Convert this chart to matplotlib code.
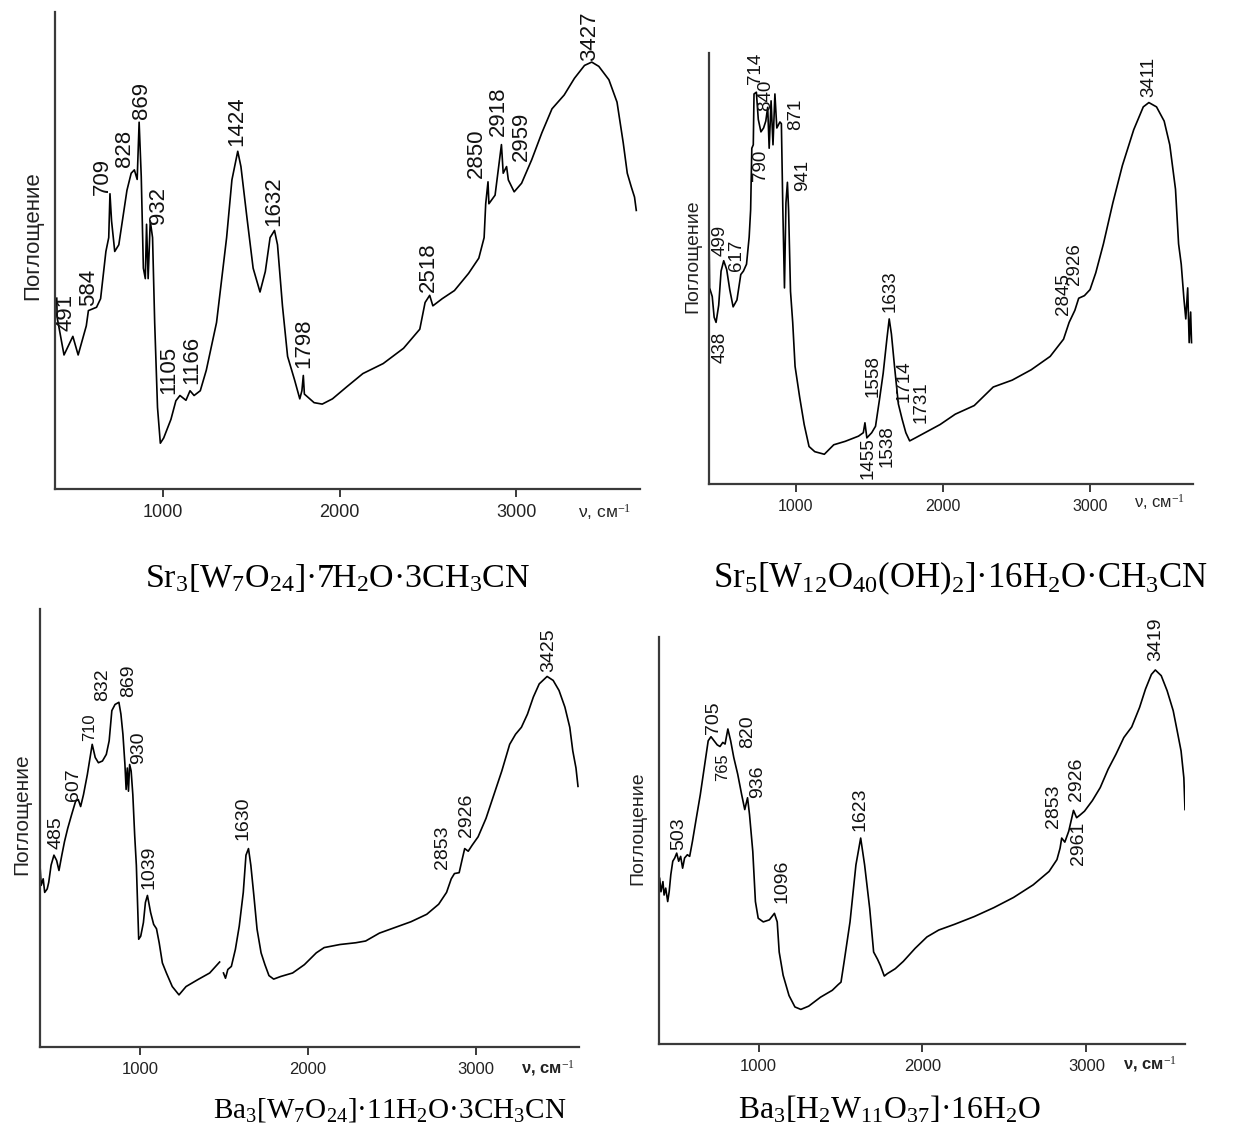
import numpy as np
import matplotlib
matplotlib.use('Agg')
import matplotlib.pyplot as plt

plt.rcParams['font.family'] = ['Liberation Sans', 'DejaVu Sans']
plt.rcParams['mathtext.fontset'] = 'custom'
plt.rcParams['mathtext.rm'] = 'Liberation Serif'
plt.rcParams['mathtext.it'] = 'Liberation Serif:italic'
plt.rcParams['mathtext.bf'] = 'Liberation Serif:bold'

# ---------------- Panel 1: Sr3[W7O24]·7H2O·3CH3CN ----------------
p1_wn = [400, 402, 441, 491, 521, 567, 579, 625, 648, 678, 694, 701, 710, 728, 751, 797, 821, 839, 855,
         866, 878, 890, 901, 908, 917, 929, 942, 954, 970, 986, 1005, 1046, 1074, 1097, 1131, 1154, 1177,
         1212, 1246, 1304, 1361, 1391, 1424, 1442, 1476, 1511, 1550, 1580, 1607, 1632, 1649, 1677, 1706,
         1746, 1775, 1787, 1795, 1801, 1856, 1902, 1960, 2040, 2132, 2247, 2362, 2454, 2484, 2510, 2528,
         2581, 2650, 2730, 2788, 2818, 2827, 2840, 2845, 2880, 2916, 2926, 2945, 2955, 2988, 3030, 3087,
         3145, 3202, 3271, 3329, 3386, 3427, 3467, 3524, 3570, 3605, 3628, 3651, 3669, 3679]
p1_abs = [40.0, 36.0, 28.1, 32.0, 28.1, 34.2, 37.4, 38.1, 39.9, 49.8, 52.7, 61.9, 56.2, 49.8, 51.2, 62.6,
          66.2, 66.9, 64.9, 76.9, 65.5, 46.3, 44.1, 55.5, 44.1, 56.2, 52.7, 34.9, 17.1, 9.6, 10.7, 14.6,
          18.5, 19.6, 18.6, 20.6, 19.6, 20.6, 24.9, 34.9, 52.7, 64.8, 70.8, 67.6, 56.9, 46.3, 41.3, 45.6,
          52.7, 54.2, 51.2, 38.4, 27.8, 22.8, 18.9, 20.6, 23.8, 19.9, 18.1, 17.8, 18.9, 21.4, 24.2, 26.3,
          29.5, 33.5, 39.1, 40.6, 38.4, 39.9, 41.6, 45.2, 48.4, 52.7, 59.8, 64.4, 59.8, 61.6, 72.2, 66.2,
          67.6, 64.8, 62.3, 64.1, 69.0, 74.7, 79.7, 82.6, 86.1, 88.8, 89.5, 88.6, 85.8, 81.1, 72.6, 66.2,
          63.3, 61.2, 58.4]
p1_peaks = [491, 584, 709, 828, 869, 932, 1105, 1166, 1424, 1632, 1798, 2518, 2850, 2918, 2959, 3427]
p1_lab_x = [452, 579, 657, 784, 878, 975, 1032, 1166, 1419, 1626, 1798, 2505, 2772, 2896, 3030, 3414]
p1_lab_y = [33.1, 38.4, 61.6, 67.6, 77.6, 55.5, 19.9, 22.1, 71.9, 55.2, 25.3, 41.3, 65.1, 74.0, 68.7, 89.7]

# ---------------- Panel 2: Sr5[W12O40(OH)2]·16H2O·CH3CN ----------------
p2_wn = [410, 414, 432, 445, 458, 476, 492, 510, 530, 551, 574, 600, 626, 644, 665, 683, 693, 701, 711,
         716, 732, 745, 763, 781, 796, 809, 819, 832, 845, 858, 871, 892, 902, 912, 923, 933, 943, 951,
         964, 979, 995, 1026, 1057, 1090, 1129, 1194, 1258, 1336, 1426, 1459, 1470, 1483, 1516, 1542,
         1568, 1594, 1619, 1635, 1650, 1671, 1697, 1723, 1748, 1774, 1813, 1878, 1981, 2084, 2213, 2342,
         2471, 2600, 2729, 2820, 2858, 2897, 2923, 2962, 3000, 3039, 3091, 3155, 3220, 3297, 3362, 3400,
         3452, 3504, 3542, 3581, 3602, 3620, 3638, 3651, 3664, 3674, 3684, 3690]
p2_abs = [58.9, 45.5, 43.5, 38.7, 37.5, 41.5, 49.4, 51.8, 49.8, 45.1, 41.1, 42.7, 48.6, 49.4, 51.0, 57.3,
          63.6, 77.9, 78.7, 90.5, 90.9, 84.6, 81.7, 82.6, 84.2, 87.4, 77.9, 88.9, 78.7, 90.5, 82.6, 84.0,
          83.6, 63.6, 45.5, 65.2, 70.0, 63.6, 44.7, 37.5, 27.3, 20.2, 13.8, 8.7, 7.5, 6.9, 9.1, 9.9, 11.1,
          11.9, 14.2, 10.7, 11.9, 13.4, 19.4, 25.7, 33.6, 38.3, 34.8, 27.3, 18.6, 15.0, 11.9, 10.0, 10.7,
          11.9, 13.8, 16.2, 18.2, 22.5, 24.1, 26.5, 29.6, 33.6, 37.5, 40.3, 43.1, 43.7, 45.1, 49.0, 55.7,
          65.2, 73.9, 82.2, 87.5, 88.5, 87.5, 84.2, 78.7, 68.4, 55.7, 51.0, 43.1, 38.3, 45.5, 32.8, 39.9,
          32.8]
p2_peaks = [438, 499, 617, 714, 840, 790, 871, 941, 1455, 1538, 1558, 1633, 1714, 1731, 2845, 2926, 3411]
p2_lab_x = [484, 484, 600, 729, 794, 763, 997, 1049, 1490, 1619, 1529, 1640, 1736, 1852, 2820, 2897, 3400]
p2_lab_y = [28.1, 53.0, 49.4, 92.9, 86.6, 70.4, 82.2, 68.0, 1.2, 4.0, 20.2, 39.9, 19.0, 14.2, 39.1, 46.2, 89.7]

# ---------------- Panel 3: Ba3[W7O24]·11H2O·3CH3CN ----------------
p3_wn = [404, 411, 423, 432, 447, 456, 470, 487, 503, 517, 534, 550, 569, 592, 616, 632, 646, 663, 686,
         715, 733, 752, 776, 799, 816, 832, 851, 874, 886, 898, 910, 917, 924, 931, 938, 947, 957, 968,
         978, 985, 992, 1004, 1020, 1032, 1044, 1063, 1081, 1098, 1114, 1133, 1157, 1192, 1232, 1274,
         1345, 1415, 1474, np.nan, 1497, 1509, 1523, 1544, 1568, 1591, 1615, 1631, 1646, 1660, 1678, 1697,
         1721, 1744, 1768, 1796, 1838, 1909, 1979, 2050, 2097, 2191, 2285, 2344, 2426, 2520, 2614, 2708,
         2779, 2826, 2854, 2873, 2901, 2920, 2934, 2955, 2979, 3014, 3061, 3108, 3155, 3202, 3237, 3272,
         3308, 3343, 3378, 3425, 3461, 3496, 3531, 3560, 3578, 3597, 3609]
p3_abs = [41.5, 36.9, 38.4, 35.3, 36.1, 37.6, 41.5, 43.8, 42.6, 40.3, 43.8, 46.9, 49.9, 53.0, 56.1, 56.5,
          54.9, 57.6, 62.2, 69.1, 66.1, 64.9, 65.3, 66.8, 69.9, 76.8, 78.2, 78.7, 76.0, 71.4, 64.5, 58.8,
          63.7, 58.4, 64.5, 63.0, 57.6, 48.4, 41.5, 33.0, 24.6, 25.3, 28.4, 33.0, 34.6, 30.7, 28.0, 27.0,
          23.8, 19.2, 16.9, 13.8, 11.9, 13.8, 15.4, 16.9, 19.4, np.nan, 16.9, 15.7, 17.7, 18.4, 22.3, 27.6,
          35.3, 43.8, 45.3, 41.5, 34.6, 26.9, 21.5, 18.8, 16.3, 15.5, 16.1, 16.9, 18.8, 21.5, 22.7, 23.4,
          23.8, 24.2, 26.0, 27.3, 28.6, 30.3, 32.6, 35.3, 38.4, 39.6, 39.8, 43.0, 45.3, 44.7, 46.1, 48.0,
          52.2, 57.6, 63.0, 69.1, 71.4, 73.0, 76.0, 79.9, 82.9, 84.6, 83.7, 81.4, 77.6, 73.0, 67.6, 63.7,
          59.5]
p3_peaks = [485, 607, 710, 832, 869, 930, 1039, 1630, 2853, 2926, 3425]
p3_lab_x = [498, 604, 698, 780, 933, 992, 1051, 1615, 2802, 2943, 3437]
p3_lab_y = [45.3, 56.1, 69.9, 79.1, 79.9, 64.5, 36.1, 47.2, 40.7, 48.0, 85.6]

# ---------------- Panel 4: Ba3[H2W11O37]·16H2O ----------------
p4_wn = [397, 405, 417, 424, 434, 446, 455, 465, 477, 489, 501, 513, 525, 537, 549, 566, 580, 597, 621,
         645, 669, 693, 710, 729, 748, 765, 782, 796, 813, 830, 849, 873, 897, 916, 933, 945, 965, 981,
         998, 1029, 1066, 1097, 1114, 1126, 1150, 1186, 1222, 1258, 1306, 1378, 1450, 1486, 1503, 1522,
         1558, 1594, 1623, 1647, 1678, 1702, 1726, 1743, 1767, 1786, 1834, 1883, 1955, 2027, 2099, 2195,
         2315, 2435, 2555, 2675, 2772, 2820, 2839, 2849, 2868, 2892, 2921, 2940, 2959, 2988, 3036, 3084,
         3132, 3180, 3228, 3276, 3324, 3360, 3396, 3420, 3456, 3492, 3529, 3553, 3577, 3594, 3601]
p4_abs = [40.7, 37.4, 39.9, 36.6, 38.3, 35.0, 37.4, 41.6, 44.9, 45.7, 46.9, 44.9, 46.1, 43.2, 45.7, 46.5,
          46.1, 49.8, 55.6, 61.3, 67.9, 74.5, 75.5, 74.5, 73.5, 73.1, 74.1, 73.7, 77.4, 74.5, 70.4, 66.3,
          61.3, 57.6, 60.5, 56.4, 47.3, 35.0, 30.9, 30.0, 30.5, 32.1, 30.0, 22.6, 16.9, 11.9, 9.1, 8.5,
          9.3, 11.5, 13.2, 14.6, 15.2, 20.2, 30.0, 44.0, 50.6, 44.0, 33.3, 22.6, 20.8, 19.3, 16.7, 17.3,
          18.5, 20.3, 23.5, 26.3, 28.0, 29.4, 31.3, 33.5, 36.0, 39.1, 42.4, 45.3, 48.1, 50.6, 49.6, 52.3,
          57.4, 55.6, 56.2, 57.2, 59.8, 63.0, 67.5, 71.2, 75.3, 77.9, 82.7, 87.2, 90.8, 91.9, 90.5, 86.8,
          81.9, 77.0, 72.0, 65.4, 57.6]
p4_peaks = [503, 705, 765, 820, 936, 1096, 1623, 2853, 2926, 2961, 3419]
p4_lab_x = [513, 724, 782, 933, 993, 1142, 1618, 2796, 2940, 2952, 3420]
p4_lab_y = [47.7, 76.1, 64.6, 72.8, 60.5, 34.6, 52.3, 53.1, 59.7, 44.0, 94.2]

titles = [r'Sr$_3$[W$_7$O$_{24}$]·7H$_2$O·3CH$_3$CN',
          r'Sr$_5$[W$_{12}$O$_{40}$(OH)$_2$]·16H$_2$O·CH$_3$CN',
          r'Ba$_3$[W$_7$O$_{24}$]·11H$_2$O·3CH$_3$CN',
          r'Ba$_3$[H$_2$W$_{11}$O$_{37}$]·16H$_2$O']
ticks = [1000, 2000, 3000]

W, H = 1236, 1126
fig = plt.figure(figsize=(W / 100, H / 100), dpi=100)


def px_axes(x0, x1, ytop, ybot):
    return fig.add_axes([x0 / W, 1 - ybot / H, (x1 - x0) / W, (ybot - ytop) / H])


panels = [
    dict(box=(55, 640, 12, 489), xlim=(390, 3700), wn=p1_wn, ab=p1_abs, peaks=p1_peaks,
         lx=p1_lab_x, ly=p1_lab_y, lfs=16, tfs=13, ylab=(33, 236, 16), xlab=(605, 512, 12.5, 'normal'),
         title=(338, 578, 24.5)),
    dict(box=(709, 1193, 53, 484), xlim=(410, 3700), wn=p2_wn, ab=p2_abs, peaks=p2_peaks,
         lx=p2_lab_x, ly=p2_lab_y, lfs=13.5, tfs=11.5, ylab=(693, 256, 14), xlab=(1160, 502, 12, 'normal'),
         title=(961, 578, 25)),
    dict(box=(40, 579, 609, 1047), xlim=(404, 3615), wn=p3_wn, ab=p3_abs, peaks=p3_peaks,
         lx=p3_lab_x, ly=p3_lab_y, lfs=14, tfs=12, ylab=(22, 814, 15), xlab=(548, 1068, 12, 'bold'),
         title=(390, 1110, 21)),
    dict(box=(659, 1185, 637, 1044), xlim=(393, 3601), wn=p4_wn, ab=p4_abs, peaks=p4_peaks,
         lx=p4_lab_x, ly=p4_lab_y, lfs=14, tfs=12, ylab=(638, 828, 14), xlab=(1150, 1064, 12, 'bold'),
         title=(889, 1110, 22.8)),
]

for i, p in enumerate(panels):
    ax = px_axes(*p['box'])
    ax.plot(p['wn'], p['ab'], color='black', lw=1.2)
    ax.set_xlim(*p['xlim'])
    ax.set_ylim(0, 100)
    for s in ['top', 'right']:
        ax.spines[s].set_visible(False)
    for s in ['left', 'bottom']:
        ax.spines[s].set_color('#3a3a3a')
        ax.spines[s].set_linewidth(1.6)
    ax.set_yticks([])
    ax.set_xticks(ticks)
    ax.set_xticklabels([str(t) for t in ticks], fontsize=p['tfs'], color='#222222')
    ax.tick_params(axis='x', direction='out', length=6, width=1.4, color='#3a3a3a', pad=5)
    ax.patch.set_alpha(0)
    for pk, lx, ly in zip(p['peaks'], p['lx'], p['ly']):
        fs = p['lfs'] * (0.85 if pk in (710, 765) else 1.0)
        ax.text(lx, ly, str(pk), rotation=90, ha='center', va='bottom', fontsize=fs,
                color='#111111', clip_on=False)
    yx, yy, yfs = p['ylab']
    fig.text(yx / W, 1 - yy / H, 'Поглощение', rotation=90, ha='center', va='center',
             fontsize=yfs, color='#222222')
    xx, xy, xfs, xw = p['xlab']
    fig.text(xx / W, 1 - xy / H, r'ν, см$^{-1}$', ha='center', va='center', fontsize=xfs,
             color='#222222', fontweight=xw)
    tx, ty, tfs2 = p['title']
    fig.text(tx / W, 1 - ty / H, titles[i], ha='center', va='center', fontsize=tfs2,
             family='Liberation Serif', color='black')

fig.savefig('out.png', dpi=100)
